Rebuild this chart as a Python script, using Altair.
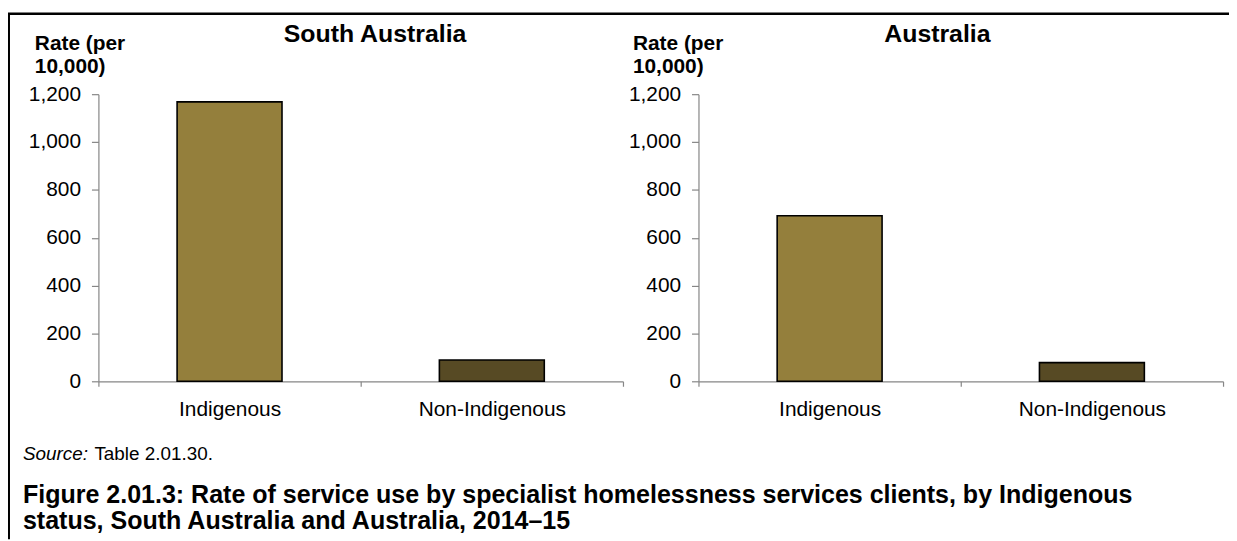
import altair as alt
import pandas as pd

# ---- data ----
categories = ["Indigenous", "Non-Indigenous"]
sa_rates = [1168, 89]
aus_rates = [692, 78]
panel_titles = ["South Australia", "Australia"]
y_ticks = [0, 200, 400, 600, 800, 1000, 1200]
y_title_lines = ["Rate (per", "10,000)"]
source_label = "Source:"
source_text = "Table 2.01.30."
caption_lines = [
    "Figure 2.01.3: Rate of service use by specialist homelessness services clients, by Indigenous",
    "status, South Australia and Australia, 2014\u201315",
]
bar_colors = ["#947F3C", "#574A24"]

FONT = "Liberation Sans"
W, H = 1229, 374
AXIS_GRAY = "#868686"

df_sa = pd.DataFrame({"status": categories, "rate": sa_rates})
df_aus = pd.DataFrame({"status": categories, "rate": aus_rates})

color = alt.Color("status:N", scale=alt.Scale(domain=categories, range=bar_colors), legend=None)


def panel(df, x0, x1):
    return alt.Chart(df).mark_bar(
        stroke="black", strokeWidth=1.6, width=alt.RelativeBandSize(0.4)
    ).encode(
        x=alt.X(
            "status:N",
            sort=categories,
            scale=alt.Scale(range=[x0, x1], paddingInner=0, paddingOuter=0),
            axis=alt.Axis(
                orient="bottom", title=None, labelAngle=0, tickBand="extent",
                labelFontSize=21, labelFont=FONT, labelColor="black",
                labelPadding=12, tickSize=5, tickColor=AXIS_GRAY,
                domainColor=AXIS_GRAY, domainWidth=1.2, tickWidth=1.2,
            ),
        ),
        y=alt.Y(
            "rate:Q",
            scale=alt.Scale(domain=[0, 1200], range=[H, 85], nice=False),
            axis=alt.Axis(
                orient="left", offset=-x0, title=None, values=y_ticks, format=",d",
                grid=False, labelFontSize=21, labelFont=FONT, labelColor="black",
                labelPadding=11, tickSize=7, tickColor=AXIS_GRAY,
                domainColor=AXIS_GRAY, domainWidth=1.2, tickWidth=1.2,
            ),
        ),
        color=color,
    )


def text_layer(txt, x, y, size, weight="normal", style="normal", align="left"):
    return alt.Chart(pd.DataFrame({"t": [txt]})).mark_text(
        font=FONT, fontSize=size, fontWeight=weight, fontStyle=style,
        align=align, baseline="alphabetic", color="black",
    ).encode(x=alt.value(x), y=alt.value(y), text="t:N")


left = panel(df_sa, 91, 619)
right = panel(df_aus, 695, 1223)

texts = [
    text_layer(panel_titles[0], 369.5, 32, 25, weight="bold", align="center"),
    text_layer(panel_titles[1], 935.5, 32, 25, weight="bold", align="center"),
    text_layer(y_title_lines[0], 27, 41, 21, weight="bold"),
    text_layer(y_title_lines[1], 27, 64, 21, weight="bold"),
    text_layer(y_title_lines[0], 629, 41, 21, weight="bold"),
    text_layer(y_title_lines[1], 629, 64, 21, weight="bold"),
    text_layer(source_label, 15, 453, 19, style="italic"),
    text_layer(source_text, 87, 453, 19),
    text_layer(caption_lines[0], 15, 497, 25.2, weight="bold"),
    text_layer(caption_lines[1], 15, 523, 25.2, weight="bold"),
]

one = pd.DataFrame({"k": [0]})
frame_top = alt.Chart(one).mark_rule(color="black", strokeWidth=2.5).encode(
    x=alt.value(0), x2=alt.value(W), y=alt.value(4)
)
frame_left = alt.Chart(one).mark_rule(color="black", strokeWidth=2).encode(
    x=alt.value(1), y=alt.value(4), y2=alt.value(533)
)

chart = alt.layer(left, right, *texts, frame_top, frame_left).resolve_scale(
    x="independent", y="independent"
).resolve_axis(x="independent", y="independent").properties(
    width=W, height=H,
    padding={"left": 0, "top": 0, "right": 0, "bottom": 159},
    autosize=alt.AutoSizeParams(type="none"),
).configure_view(stroke=None)

chart.save("out.html", embed_options={"renderer": "svg", "actions": False})
